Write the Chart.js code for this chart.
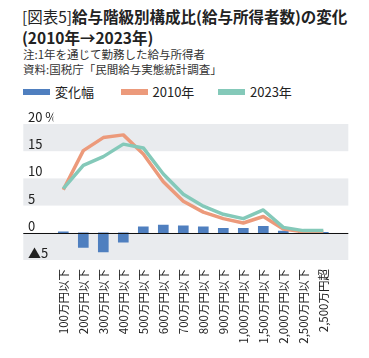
<!DOCTYPE html>
<html lang="ja">
<head>
<meta charset="utf-8">
<script src="https://cdn.jsdelivr.net/npm/chart.js@4/dist/chart.umd.min.js"></script>
<style>
  html, body { margin: 0; padding: 0; background: #fff; }
  body { width: 369px; height: 358px; position: relative; overflow: hidden;
         font-family: "Noto Sans CJK JP", "Noto Sans", sans-serif; color: #222; }
  .title { position: absolute; left: 22px; top: 6px; font-size: 15.5px; line-height: 21px;
           font-weight: 700; letter-spacing: 0; white-space: nowrap; }
  .title .tag { font-weight: 400; }
  .note { position: absolute; left: 23px; font-size: 11.5px; line-height: 15px; color: #333; white-space: nowrap; }
  .legend { position: absolute; left: 23px; top: 84px; display: flex; font-size: 13px; line-height: 16px; color: #222; }
  .legend span.item { width: 97.5px; display: flex; align-items: center; }
  .legend i { display: inline-block; width: 27px; height: 6px; margin-right: 5px; }
  #chart { position: absolute; left: 0; top: 0; }
</style>
</head>
<body>
<div class="title"><span class="tag">[図表5]</span>給与階級別構成比(給与所得者数)の変化<br>(2010年→2023年)</div>
<div class="note" style="top:47px">注:1年を通じて勤務した給与所得者</div>
<div class="note" style="top:62px">資料:国税庁「民間給与実態統計調査」</div>
<div class="legend" id="legend"></div>
<canvas id="chart" width="369" height="358"></canvas>
<script>
// 給与階級（カテゴリ）
const categories = ['100万円以下', '200万円以下', '300万円以下', '400万円以下', '500万円以下',
  '600万円以下', '700万円以下', '800万円以下', '900万円以下', '1,000万円以下',
  '1,500万円以下', '2,000万円以下', '2,500万円以下', '2,500万円超'];

// 構成比（%）
const share2010 = [7.9, 15.1, 17.5, 18.0, 14.5, 9.4, 5.8, 3.8, 2.6, 1.8, 3.0, 0.7, 0.2, 0.2];
const share2023 = [8.1, 12.4, 14.0, 16.3, 15.6, 10.8, 7.1, 4.9, 3.4, 2.6, 4.2, 1.0, 0.4, 0.4];
// 変化幅（ポイント）
const change = [0.2, -2.7, -3.5, -1.7, 1.1, 1.4, 1.3, 1.1, 0.8, 0.8, 1.2, 0.3, 0.1, 0.1];

// 縦軸の目盛
const yTicks = [-5, 0, 5, 10, 15, 20];
const yMin = yTicks[0], yMax = yTicks[yTicks.length - 1];

const C_BAR = '#4f7fbf', C_2010 = '#ec9a7b', C_2023 = '#84c9b9', C_BAND = '#e9ebee';

// 凡例（HTML）
const legendItems = [['変化幅', C_BAR], ['2010年', C_2010], ['2023年', C_2023]];
document.getElementById('legend').innerHTML = legendItems
  .map(([t, c]) => `<span class="item"><i style="background:${c}"></i>${t}</span>`).join('');

// 背景の帯（目盛より先に描く）と 0 ライン
const bandPlugin = {
  id: 'bands',
  beforeDraw(chart) {
    const { ctx, chartArea: a, scales: { y } } = chart;
    const left = a.left - 30, right = a.right + 15;
    ctx.save();
    ctx.fillStyle = C_BAND;
    [[15, 20], [5, 10], [-5, 0]].forEach(([lo, hi]) => {
      const top = y.getPixelForValue(hi), bot = y.getPixelForValue(lo);
      ctx.fillRect(left, top, right - left, bot - top);
    });
    ctx.restore();
  },
  afterDatasetsDraw(chart) {
    const { ctx, chartArea: a, scales: { y } } = chart;
    const y0 = Math.round(y.getPixelForValue(0)) + 0.5;
    ctx.save();
    ctx.strokeStyle = '#111';
    ctx.lineWidth = 1;
    ctx.beginPath();
    ctx.moveTo(a.left - 30, y0);
    ctx.lineTo(a.right + 15, y0);
    ctx.stroke();
    ctx.restore();
  },
};

new Chart(document.getElementById('chart'), {
  data: {
    labels: categories,
    datasets: [
      { type: 'line', label: '2023年', data: share2023, borderColor: C_2023, borderWidth: 3.5,
        pointRadius: 0, tension: 0, borderJoinStyle: 'round', order: 1 },
      { type: 'line', label: '2010年', data: share2010, borderColor: C_2010, borderWidth: 3.5,
        pointRadius: 0, tension: 0, borderJoinStyle: 'round', order: 2 },
      { type: 'bar', label: '変化幅', data: change, backgroundColor: C_BAR, barThickness: 10, order: 3 },
    ],
  },
  plugins: [bandPlugin],
  options: {
    responsive: false,
    animation: false,
    layout: { padding: { left: 28, right: 35.7, top: 124, bottom: 0 } },
    plugins: { legend: { display: false }, tooltip: { enabled: false } },
    scales: {
      x: {
        offset: true,
        grid: { display: false, drawTicks: false },
        border: { display: false },
        ticks: { autoSkip: false, minRotation: 90, maxRotation: 90, padding: 9,
          color: '#222', font: { family: '"Noto Sans CJK JP"', size: 11.5 } },
        afterFit(s) { s.height = 98; },
      },
      y: {
        min: yMin, max: yMax,
        grid: { display: false, drawTicks: false },
        border: { display: false },
        afterBuildTicks(s) { s.ticks = yTicks.map((v) => ({ value: v })); },
        ticks: {
          autoSkip: false, crossAlign: 'far', labelOffset: -7, padding: 0,
          color: '#222', font: { family: '"Noto Sans CJK JP"', size: 13 },
          callback: (v) => (v === yMax ? `${v} %` : v < 0 ? `▲${-v}` : `${v}`),
        },
        afterFit(s) { s.width = 25.3; },
      },
    },
  },
});
</script>
</body>
</html>
